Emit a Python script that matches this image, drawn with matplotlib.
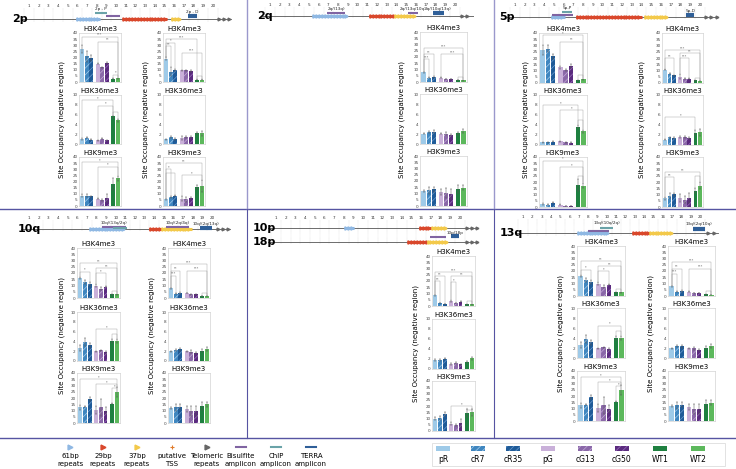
import matplotlib.pyplot as plt
from matplotlib.lines import Line2D
from matplotlib.patches import Rectangle
import numpy as np

plt.rcParams['font.family'] = ['Liberation Sans Narrow', 'DejaVu Sans']
plt.rcParams['hatch.linewidth'] = 0.5

W, H = 736, 469

samples = ["pR", "cR7", "cR35", "pG", "cG13", "cG50", "WT1", "WT2"]
bar_colors = ["#9ecae8", "#3f86bf", "#1f5b98", "#c9b0d9", "#8a68a8", "#5a2a7e", "#1e8040", "#5cb85c"]
hatch_cols = [None, "#a9cfee", "#6c9cd0", None, "#c3a9d8", "#9a6fbe", None, None]
x_pos = [0, 1, 2, 3.4, 4.4, 5.4, 6.8, 7.8]
marks = ["H3K4me3", "H3K36me3", "H3K9me3"]

# rows: H3K4me3, H3K36me3, H3K9me3
p2_a = [[27, 21, 19.5, 15, 12, 15.5, 2.5, 3],
        [1.0, 1.3, 0.9, 0.8, 1.1, 0.8, 5.7, 4.8],
        [8.5, 8.5, 8.0, 6.0, 5.0, 6.5, 18, 22.5]]
p2_a_err = [[3.5, 4.5, 2.5, 0.3, 0.3, 0.6, 0.4, 0.4],
            [0.2, 0.1, 0.1, 0.1, 0.1, 0.1, 0.3, 0.3],
            [1, 1.5, 0.5, 0.5, 1, 3, 5, 2]]
p2_b = [[19, 8.5, 10, 9.5, 9.5, 9, 2, 2],
        [1.0, 1.5, 1.1, 1.3, 1.4, 1.4, 2.2, 2.2],
        [5.5, 7.5, 8.5, 6, 5.5, 6.5, 15.5, 16.5]]
p2_b_err = [[1, 4, 1, 0.5, 0.5, 0.5, 0.3, 0.3],
            [0.1, 0.2, 0.2, 0.4, 0.2, 0.2, 0.2, 0.5],
            [1, 1, 0.5, 2, 2, 1, 2, 5]]
q2 = [[8, 3.5, 4, 3.5, 2.5, 2.5, 1.5, 1.2],
      [2.0, 2.4, 2.4, 2.0, 2.0, 1.7, 2.1, 2.5],
      [12, 12.5, 13.5, 11, 10, 9.5, 13.5, 14.5]]
q2_err = [[0.5, 0.3, 0.5, 0.3, 0.2, 0.2, 0.3, 0.2],
          [0.1, 0.2, 0.3, 0.1, 0.3, 0.2, 0.3, 0.4],
          [1, 3, 2, 2.5, 4, 4, 3, 2]]
p5_a = [[26.5, 27.5, 21.5, 12.5, 10.5, 13.5, 2, 3],
        [0.5, 0.5, 0.6, 0.7, 0.5, 0.4, 3.6, 2.7],
        [2.5, 2, 3.5, 2, 1, 1, 17.5, 17]]
p5_a_err = [[4, 3, 2, 1, 1, 1.5, 0.3, 0.3],
            [0.1, 0.1, 0.1, 0.1, 0.1, 0.1, 0.3, 0.3],
            [0.5, 0.3, 0.5, 0.3, 0.2, 0.2, 5, 2]]
p5_b = [[10.5, 7.5, 6, 5, 3.5, 3.5, 2, 1.5],
        [1.0, 1.5, 1.4, 1.6, 1.6, 1.3, 2.4, 2.5],
        [7, 9, 10, 7, 6, 7, 13, 17]]
p5_b_err = [[0.5, 0.5, 0.5, 2, 0.3, 0.3, 0.3, 0.3],
            [0.1, 0.1, 0.2, 0.2, 0.2, 0.2, 0.5, 0.7],
            [1, 2, 1, 3, 2.5, 4, 2, 3]]
q10_a = [[16, 13, 11, 10, 7.5, 9, 3, 3],
         [2.6, 3.8, 3.2, 2.0, 2.2, 1.8, 4.1, 4.0],
         [12.5, 13, 19, 10.5, 12.5, 10, 15.5, 24.5]]
q10_a_err = [[0.5, 1.5, 1.5, 1, 1, 0.5, 0.5, 0.5],
             [0.6, 0.8, 0.5, 0.1, 0.1, 0.3, 0.4, 0.4],
             [2, 0.5, 1.5, 3, 7, 3, 0.5, 4]]
q10_b = [[8, 3.5, 4, 4, 3, 3, 1.5, 1.5],
         [2.0, 2.3, 2.4, 2.0, 1.9, 1.7, 2.1, 2.5],
         [12, 12.5, 13, 11, 9.5, 9.5, 13.5, 15]]
q10_b_err = [[0.5, 0.3, 0.5, 0.3, 0.2, 0.2, 0.2, 0.2],
             [0.1, 0.2, 0.3, 0.1, 0.3, 0.2, 0.3, 0.4],
             [1, 3, 2, 2.5, 4, 4, 3, 2]]
p10_18 = [[9, 2.5, 1.5, 4, 2.5, 3.5, 1.5, 1.5],
          [1.8, 1.8, 2.1, 1.1, 1.2, 1.0, 1.5, 2.2],
          [10, 10.5, 13.5, 6, 5, 6.5, 14.5, 15]]
p10_18_err = [[1, 0.3, 0.2, 0.5, 0.3, 0.5, 0.3, 0.3],
              [0.2, 0.2, 0.1, 0.2, 0.2, 0.1, 0.2, 0.3],
              [1.5, 1.5, 1.5, 1, 1, 3, 3, 3]]
q13_a = [[16, 13, 11, 10, 7.5, 9, 3, 3],
         [2.6, 3.8, 3.2, 2.0, 2.2, 1.8, 4.1, 4.0],
         [12.5, 13, 19, 10.5, 12.5, 10, 15.5, 24.5]]
q13_a_err = q10_a_err
q13_b = [[8, 3.5, 4, 3.5, 2.5, 2.5, 1.5, 1.2],
         [2.0, 2.4, 2.4, 2.0, 2.0, 1.7, 2.1, 2.5],
         [12, 12.5, 13, 11, 10, 9.5, 13.5, 14.5]]
q13_b_err = q2_err

# significance brackets (bar i, bar j, level, label) per mark
br_p2_a = [[(0, 7, 37, '***'), (3, 7, 33, '**'), (6, 7, 6, '*')],
           [(0, 6, 9, '*'), (3, 6, 7.8, '*'), (6, 7, 6.5, '')],
           [(0, 7, 36, '*'), (3, 7, 32, '*')]]
br_p2_b = [[(0, 1, 29, '**'), (0, 2, 32, '*'), (0, 6, 35, '***'), (3, 7, 24, '***'), (6, 7, 5, '')],
           [],
           [(0, 1, 30, '*'), (0, 2, 27, ''), (0, 7, 35, '**'), (3, 7, 25, '*')]]
br_q2 = [[(0, 1, 18, '***'), (0, 2, 22, '**'), (0, 7, 27, '***'), (3, 7, 22, '***'), (6, 7, 4, '')],
         [], []]
br_p5_a = [[(0, 7, 38, '*'), (3, 7, 33, '**'), (6, 7, 6, '')],
           [(0, 6, 8, '*'), (3, 7, 7, '*'), (6, 7, 5, '')],
           [(0, 7, 37, '*'), (3, 7, 32, '*'), (6, 7, 25, '')]]
br_p5_b = [[(0, 2, 20, '**'), (0, 7, 26, '***'), (3, 5, 20, '***'), (3, 7, 24, '**'), (6, 7, 4, '')],
           [(0, 6, 5.5, '*')],
           [(0, 2, 24, '**'), (0, 7, 28, '**'), (6, 7, 25, '')]]
br_q10_a = [[(0, 2, 21, '*'), (0, 7, 28, '**'), (3, 5, 20, '*'), (3, 7, 24, '**'), (6, 7, 6, '')],
            [(3, 7, 6.5, '*'), (6, 7, 5.5, '')],
            [(0, 7, 35, '*'), (3, 7, 31, '*'), (6, 7, 28, '*')]]
br_p10_18 = [[(0, 1, 20, '**'), (0, 2, 24, '**'), (0, 7, 27, '***'), (3, 4, 19, '*'), (3, 7, 24, '**'), (6, 7, 4, '')],
             [],
             [(3, 7, 20, '*'), (6, 7, 17, '')]]

# chromosome maps: (kind, start, end, level, label)
map_2p = [('r61', 5.9, 8.3, 0, ''), ('r29', 10.7, 15.2, 0, ''), ('r37', 15.7, 16.6, 0, ''),
          ('tel', 20.4, 21.7, 0, ''), ('chip', 7.8, 9.1, 0.46, '2p - P'),
          ('bis', 9.0, 10.4, 0.26, ''), ('terra', 17.4, 18.3, 0.26, '2p - D')]
map_2q = [('r61', 5.4, 8.9, 0, ''), ('bis', 6.9, 8.7, 0.25, '2q/(13q)'), ('r29', 11.2, 13.8, 0, ''),
          ('r37', 13.8, 15.9, 0, ''), ('bis', 15.2, 16.2, 0.25, '2q/(13q/10q)'),
          ('terra', 17.7, 18.9, 0.25, '2q/(10q/13q)'), ('tel', 20.5, 21.7, 0, '')]
map_5p = [('r61', 4.8, 6.1, 0, ''), ('bis', 4.8, 7.0, 0.17, ''), ('chip', 5.8, 6.9, 0.39, '5p-P'),
          ('r29', 7.3, 14.0, 0, ''), ('r37', 14.3, 16.6, 0, ''), ('terra', 18.6, 19.4, 0.17, '5p-D'),
          ('tel', 20.4, 21.8, 0, '')]
map_10q = [('r61', 7.3, 10.9, 0, ''), ('bis', 8.6, 11.1, 0.22, '10q/(13q/2q)'), ('chip', 9.7, 11.2, 0.12, ''),
           ('r29', 13.5, 14.8, 0, ''), ('r37', 14.8, 17.9, 0, ''), ('bis', 15.2, 17.6, 0.2, '10q/(2q/4q)'),
           ('terra', 18.8, 20.0, 0.12, '10q/(2q/13q)'), ('tel', 20.4, 21.7, 0, '')]
map_10p18p = [('r61', 8.1, 9.1, 0, ''), ('r29', 15.8, 17.1, 0, ''), ('r37', 17.1, 18.6, 0, ''),
              ('tel', 20.5, 21.8, 0, ''), ('r29', 14.6, 16.6, -1.4, ''), ('r37', 16.6, 18.7, -1.4, ''),
              ('tel', 20.5, 21.8, -1.4, ''), ('bis', 16.9, 18.6, -0.9, ''),
              ('terra', 19.1, 19.9, -0.85, '10p/18p')]
map_13q = [('r61', 6.9, 10.1, 0, ''), ('bis', 8.0, 10.2, 0.12, ''), ('chip', 9.3, 10.7, 0.3, '13q/(10q/2q)'),
           ('r29', 12.8, 14.6, 0, ''), ('r37', 14.6, 17.0, 0, ''), ('terra', 19.2, 20.5, 0.25, '13q/(2q/10q)'),
           ('tel', 20.7, 21.9, 0, '')]

feat_colors = {'r61': '#8fb8e3', 'r29': '#d9472b', 'r37': '#f3c94a', 'tel': '#666666',
               'bis': '#8064a2', 'chip': '#6aa3a8', 'terra': '#2f5f98'}

fig = plt.figure(figsize=(W / 100, H / 100), dpi=100)


def px_rect(x0, x1, ytop, ybot):
    return [x0 / W, 1 - ybot / H, (x1 - x0) / W, (ybot - ytop) / H]


def fig_line(x0, y0, x1, y1, color, lw):
    fig.add_artist(Line2D([x0 / W, x1 / W], [1 - y0 / H, 1 - y1 / H], transform=fig.transFigure,
                          color=color, lw=lw))


def draw_bars(rect, title, vals, errs, ymax, step, brackets):
    ax = fig.add_axes(rect)
    for i in range(8):
        hc = hatch_cols[i]
        ax.bar(x_pos[i], vals[i], width=0.85, color=bar_colors[i],
               hatch='/////' if hc else None, edgecolor=hc if hc else bar_colors[i], linewidth=0)
    ax.errorbar(x_pos, vals, yerr=errs, fmt='none', ecolor='#555555', elinewidth=0.35,
                capsize=0.7, capthick=0.35)
    ax.set_xlim(-0.7, 8.5)
    ax.set_ylim(0, ymax)
    ax.set_yticks(np.arange(0, ymax + 0.1, step))
    ax.set_xticks([])
    ax.tick_params(axis='y', labelsize=3, length=0, pad=1, colors='#444444')
    for s in ax.spines.values():
        s.set_color('#c8c8c8')
        s.set_linewidth(0.4)
    ax.set_title(title, fontsize=5, pad=1.5)
    for i, j, lev, lab in brackets:
        yi = vals[i] + errs[i] + ymax * 0.02
        yj = vals[j] + errs[j] + ymax * 0.02
        ax.plot([x_pos[i], x_pos[i], x_pos[j], x_pos[j]], [yi, lev, lev, yj], color='#9a9a9a', lw=0.3)
        if lab:
            ax.text((x_pos[i] + x_pos[j]) / 2, lev, lab, fontsize=2.5, ha='center', va='bottom', color='#555555')


def draw_column(x0, x1, rows, vals, errs, brackets):
    for r in range(3):
        ymax, step = (10, 2) if r == 1 else (40, 5)
        draw_bars(px_rect(x0, x1, rows[r][0], rows[r][1]), marks[r], vals[r], errs[r], ymax, step, brackets[r])


def draw_map(p1, p20, y_num, y_line, feats, n_rows=1, row_gap=1.4):
    s = (p20 - p1) / 19
    unit = y_line - y_num
    bottom_px = y_line + 5 + (n_rows - 1) * row_gap * unit
    ax = fig.add_axes(px_rect(p1 - s, p1 + 21 * s, y_num - 5, bottom_px))
    ax.set_xlim(0, 22)
    ax.set_ylim(-(bottom_px - y_line) / unit, 1 + 5 / unit)
    ax.axis('off')
    low = -(n_rows - 1) * row_gap - 0.2
    ax.vlines(np.arange(0.5, 21, 1), low, 0.85, linestyles=':', lw=0.3, color='#bbbbbb')
    for k in range(1, 21):
        ax.text(k, 1, str(k), fontsize=3, ha='center', va='center', color='#333333')
    for r in range(n_rows):
        ax.plot([0.2, 21.9], [-r * row_gap] * 2, color='#555555', lw=0.6)
    for kind, a, b, lev, lab in feats:
        c = feat_colors[kind]
        if kind in ('r61', 'r29', 'r37'):
            ax.plot([a, b], [lev, lev], color=c, lw=2.2, solid_capstyle='butt')
            xs = np.arange(a + 0.15, b, 0.3)
            ax.plot(xs, [lev] * len(xs), ls='', marker='>', ms=2.3, color=c, mec=c)
        elif kind == 'tel':
            xs = np.arange(a + 0.2, b, 0.55)
            ax.plot(xs, [lev] * len(xs), ls='', marker='>', ms=2, color=c)
        else:
            ax.plot([a, b], [lev, lev], color=c, lw=3 if kind == 'terra' else 1.5, solid_capstyle='butt')
            if lab:
                ax.text((a + b) / 2, lev + 0.18, lab, fontsize=3, ha='center', va='bottom', color='#222222')


def ylab(x, y):
    fig.text(x / W, 1 - y / H, "Site Occupancy (negative region)", rotation=90, fontsize=5,
             ha='center', va='center')


# panel dividers
line_c = '#5654a2'
fig_line(0, 209, W, 209, line_c, 1.0)
fig_line(0, 438, W, 438, line_c, 1.0)
fig_line(247, 0, 247, 209, '#9a98cc', 1.0)
fig_line(494, 0, 494, 209, '#9a98cc', 1.0)
fig_line(247, 209, 247, 438, line_c, 0.8)
fig_line(494, 209, 494, 438, line_c, 0.8)

# top row
top_rows = [(33, 82), (95, 144), (157, 206)]
draw_map(29, 213, 6, 19.5, map_2p)
fig.text(12 / W, 1 - 19 / H, "2p", fontsize=8, fontweight='bold', va='center')
draw_column(79, 121, top_rows, p2_a, p2_a_err, br_p2_a)
draw_column(163, 205, top_rows, p2_b, p2_b_err, br_p2_b)
ylab(62, 120)
ylab(146, 120)

draw_map(270, 455, 5, 16, map_2q)
fig.text(257 / W, 1 - 16 / H, "2q", fontsize=8, fontweight='bold', va='center')
draw_column(420, 467, [(32, 82), (94, 144), (156, 206)], q2, q2_err, br_q2)
ylab(402, 119)

draw_map(515, 700, 5, 17, map_5p)
fig.text(499 / W, 1 - 17 / H, "5p", fontsize=8, fontweight='bold', va='center')
draw_column(539, 587, [(33, 83), (95, 145), (157, 207)], p5_a, p5_a_err, br_p5_a)
draw_column(662, 703, [(33, 83), (95, 145), (157, 207)], p5_b, p5_b_err, br_p5_b)
ylab(526, 120)
ylab(642, 120)

# bottom row
draw_map(29, 212, 218, 229, map_10q)
fig.text(18 / W, 1 - 229 / H, "10q", fontsize=8, fontweight='bold', va='center')
bot_rows = [(248, 298), (312, 361), (373, 423)]
draw_column(77, 120, bot_rows, q10_a, q10_a_err, br_q10_a)
draw_column(168, 210, bot_rows, q10_b, q10_b_err, br_q2)
ylab(62, 335)
ylab(152, 335)

draw_map(276, 460, 218, 228, map_10p18p, n_rows=2)
fig.text(253 / W, 1 - 228 / H, "10p", fontsize=8, fontweight='bold', va='center')
fig.text(253 / W, 1 - 242 / H, "18p", fontsize=8, fontweight='bold', va='center')
draw_column(432, 475, [(256, 306), (319, 369), (381, 431)], p10_18, p10_18_err, br_p10_18)
ylab(416, 343)

draw_map(523, 700, 217, 233, map_13q)
fig.text(500 / W, 1 - 233 / H, "13q", fontsize=8, fontweight='bold', va='center')
draw_column(577, 625, [(246, 296), (308, 358), (371, 421)], q13_a, q13_a_err, br_q10_a)
draw_column(668, 715, [(246, 296), (308, 358), (371, 421)], q13_b, q13_b_err, br_q2)
ylab(561, 333)
ylab(651, 333)

# feature legend
leg_labels = ["61bp\nrepeats", "29bp\nrepeats", "37bp\nrepeats", "putative\nTSS", "Telomeric\nrepeats",
              "Bisulfite\namplicon", "ChIP\namplicon", "TERRA\namplicon"]
leg_kinds = ['r61', 'r29', 'r37', 'tss', 'tel', 'bis', 'chip', 'terra']
leg_x = [70, 103, 137, 172, 207, 241, 276, 311]
lax = fig.add_axes([0, 0, 1, 1], facecolor='none')
lax.set_xlim(0, W)
lax.set_ylim(H, 0)
lax.axis('off')
for kx, kind, lab in zip(leg_x, leg_kinds, leg_labels):
    if kind in ('r61', 'r29', 'r37', 'tel'):
        lax.plot(kx, 447, marker='>', ms=3.5, color=feat_colors[kind], ls='')
    elif kind == 'tss':
        lax.plot(kx, 447, marker='+', ms=3, color='#e07b2a', mew=0.8, ls='')
    else:
        lax.plot([kx - 5, kx + 5], [447, 447], color=feat_colors[kind], lw=1.5)
    lax.text(kx, 460, lab, fontsize=5, ha='center', va='center', linespacing=1.4)

# sample legend
lax.add_patch(Rectangle((432, 443), 293, 23, fill=False, ec='#dddddd', lw=0.6))
samp_x = [443, 478, 513, 548, 585, 622, 660, 698]
for i, (sx, name) in enumerate(zip(samp_x, samples)):
    hc = hatch_cols[i]
    lax.add_patch(Rectangle((sx - 7, 446), 14, 5, facecolor=bar_colors[i], hatch='/////' if hc else None,
                            edgecolor=hc if hc else bar_colors[i], lw=0))
    lax.text(sx, 459, name, fontsize=5.5, ha='center', va='center')

fig.savefig("out.png", dpi=100)
